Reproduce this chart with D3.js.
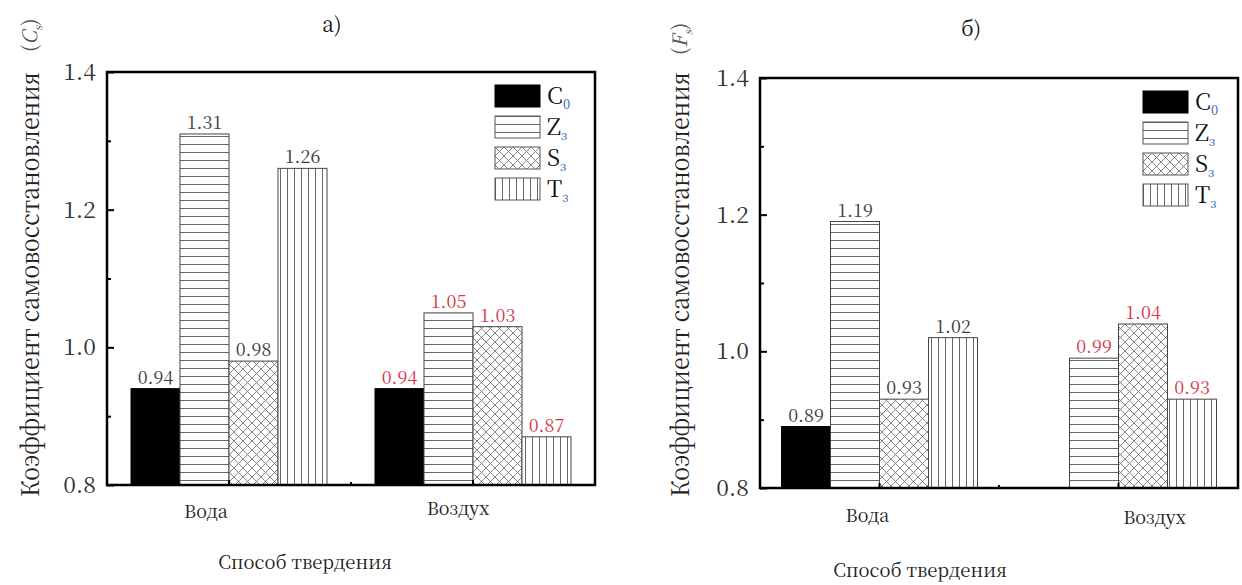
<!DOCTYPE html>
<html lang="ru"><head><meta charset="utf-8">
<script src="https://cdn.jsdelivr.net/npm/d3@7"></script>
<style>
body{margin:0;background:#fff}
svg{display:block}
</style>
</head><body>
<svg id="chart" width="1242" height="585"></svg>
<script>
// Categories and series
const categories = ["Вода", "Воздух"];
const seriesKeys = ["C0", "Z", "S", "T"];
const seriesNames = ["C", "Z", "S", "T"];
const seriesSubs = ["0", "з", "з", "з"];

// Panel а) — coefficient C_s
const a_C0 = [0.94, 0.94];
const a_Z = [1.31, 1.05];
const a_S = [0.98, 1.03];
const a_T = [1.26, 0.87];

// Panel б) — coefficient F_s (no C0 bar for air curing)
const b_C0 = [0.89, null];
const b_Z = [1.19, 0.99];
const b_S = [0.93, 1.04];
const b_T = [1.02, 0.93];

const yTicks = [0.8, 1.0, 1.2, 1.4];
const yMinorTicks = [0.9, 1.1, 1.3];
const yDomain = [0.8, 1.4];
const yLabelText = "Коэффициент самовосстановления";
const xLabelText = "Способ твердения";
const valueColors = ["#3c3c3c", "#d8384a"];
const FONT = "'Noto Serif CJK SC', 'Liberation Serif', serif";

const svg = d3.select("#chart");
const defs = svg.append("defs");

// Fill patterns
const pH = defs.append("pattern").attr("id", "hlines").attr("patternUnits", "userSpaceOnUse")
  .attr("width", 8).attr("height", 8);
pH.append("rect").attr("width", 8).attr("height", 8).attr("fill", "#fff");
pH.append("line").attr("x1", 0).attr("x2", 8).attr("y1", 0.5).attr("y2", 0.5)
  .attr("stroke", "#555").attr("stroke-width", 0.9);

const pV = defs.append("pattern").attr("id", "vlines").attr("patternUnits", "userSpaceOnUse")
  .attr("width", 7).attr("height", 7);
pV.append("rect").attr("width", 7).attr("height", 7).attr("fill", "#fff");
pV.append("line").attr("x1", 0.5).attr("x2", 0.5).attr("y1", 0).attr("y2", 7)
  .attr("stroke", "#555").attr("stroke-width", 0.9);

const pX = defs.append("pattern").attr("id", "cross").attr("patternUnits", "userSpaceOnUse")
  .attr("width", 9).attr("height", 9);
pX.append("rect").attr("width", 9).attr("height", 9).attr("fill", "#fff");
pX.append("path").attr("d", "M0,0L9,9M9,0L0,9").attr("stroke", "#666").attr("stroke-width", 0.8);

const fills = {C0: "#000", Z: "url(#hlines)", S: "url(#cross)", T: "url(#vlines)"};

function drawPanel(cfg) {
  const g = svg.append("g");
  const x = d3.scaleBand().domain(categories).range([cfg.left, cfg.right]);
  const groupW = 196;
  const x1 = d3.scaleBand().domain(seriesKeys).range([-groupW / 2, groupW / 2]);
  const y = d3.scaleLinear().domain(yDomain).range([cfg.bottom, cfg.top]);

  const rows = [];
  seriesKeys.forEach((k, si) => {
    cfg.values[si].forEach((v, ci) => {
      if (v != null) rows.push({key: k, cat: categories[ci], ci, value: v});
    });
  });

  // Bars
  g.selectAll("rect.bar").data(rows).join("rect").attr("class", "bar")
    .attr("x", d => x(d.cat) + x.bandwidth() / 2 + x1(d.key))
    .attr("width", x1.bandwidth())
    .attr("y", d => y(d.value))
    .attr("height", d => y(yDomain[0]) - y(d.value))
    .attr("fill", d => fills[d.key])
    .attr("stroke", d => d.key === "C0" ? "#000" : "#444")
    .attr("stroke-width", 1);

  // Value labels
  g.selectAll("text.val").data(rows).join("text").attr("class", "val")
    .attr("x", d => x(d.cat) + x.bandwidth() / 2 + x1(d.key) + x1.bandwidth() / 2)
    .attr("y", d => y(d.value) - 5)
    .attr("text-anchor", "middle")
    .attr("font-size", 18)
    .attr("fill", d => valueColors[d.ci])
    .text(d => d3.format(".2f")(d.value));

  // Y axis ticks (inward)
  const yAxis = d3.axisRight(y).tickValues(yTicks).tickSize(7).tickFormat("");
  g.append("g").attr("transform", `translate(${cfg.left},0)`).call(yAxis)
    .call(s => s.select(".domain").remove())
    .call(s => s.selectAll("line").attr("stroke", "#000").attr("stroke-width", 2));
  const yAxisMinor = d3.axisRight(y).tickValues(yMinorTicks).tickSize(4).tickFormat("");
  g.append("g").attr("transform", `translate(${cfg.left},0)`).call(yAxisMinor)
    .call(s => s.select(".domain").remove())
    .call(s => s.selectAll("line").attr("stroke", "#000").attr("stroke-width", 2));

  g.selectAll("text.ytick").data(yTicks).join("text").attr("class", "ytick")
    .attr("x", cfg.left - 11).attr("y", d => y(d))
    .attr("dy", "0.35em").attr("text-anchor", "end")
    .attr("font-size", 23).attr("fill", "#333")
    .text(d => d3.format(".1f")(d));

  // X axis ticks (inward): category centres and the midpoint between them
  const xTickPos = [x(categories[0]) + x.bandwidth() / 2, cfg.left + (cfg.right - cfg.left) / 2, x(categories[1]) + x.bandwidth() / 2];
  g.selectAll("line.xtick").data(xTickPos).join("line").attr("class", "xtick")
    .attr("x1", d => d).attr("x2", d => d)
    .attr("y1", cfg.bottom).attr("y2", (d, i) => cfg.bottom - (i === 1 ? 3 : 5))
    .attr("stroke", "#000").attr("stroke-width", 2);

  // Frame
  g.append("rect").attr("x", cfg.left).attr("y", cfg.top)
    .attr("width", cfg.right - cfg.left).attr("height", cfg.bottom - cfg.top)
    .attr("fill", "none").attr("stroke", "#000").attr("stroke-width", 2.5);

  // Category labels
  g.selectAll("text.cat").data(categories).join("text").attr("class", "cat")
    .attr("x", (d, i) => x(d) + x.bandwidth() / 2 + cfg.catDx[i])
    .attr("y", (d, i) => cfg.catY[i])
    .attr("text-anchor", "middle").attr("font-size", 18).attr("fill", "#222")
    .text(d => d);

  // Axis titles
  g.append("text").attr("x", cfg.xTitleX).attr("y", cfg.xTitleY)
    .attr("text-anchor", "middle").attr("font-size", 18.5).attr("fill", "#222")
    .text(xLabelText);

  g.append("text")
    .attr("transform", `translate(${cfg.yTitleX},${cfg.yTitleBottom}) rotate(-90)`)
    .attr("dy", "0.35em").attr("font-size", 25).attr("fill", "#222")
    .attr("textLength", cfg.yTitleLen).attr("lengthAdjust", "spacingAndGlyphs")
    .text(yLabelText);

  const sym = g.append("text")
    .attr("transform", `translate(${cfg.yTitleX},${cfg.symBottom}) rotate(-90)`)
    .attr("dy", "0.35em").attr("font-size", 20).attr("fill", "#555");
  sym.append("tspan").text("(");
  sym.append("tspan").attr("font-style", "italic").text(cfg.symbol);
  sym.append("tspan").attr("font-size", 11).attr("dy", 5).attr("font-style", "italic").text("s");
  sym.append("tspan").attr("dy", -5).text(")");

  // Panel title
  g.append("text").attr("x", cfg.titleX).attr("y", cfg.titleY)
    .attr("text-anchor", "middle").attr("font-size", 21).attr("fill", "#111")
    .text(cfg.title);

  // Legend
  const lg = g.append("g").attr("transform", `translate(${cfg.legendX},${cfg.legendY})`);
  seriesKeys.forEach((k, i) => {
    const row = lg.append("g").attr("transform", `translate(0,${i * 31})`);
    row.append("rect").attr("width", 45).attr("height", 22)
      .attr("fill", fills[k]).attr("stroke", k === "C0" ? "#000" : "#555").attr("stroke-width", 1);
    const t = row.append("text").attr("x", 52).attr("y", 19).attr("font-size", 23).attr("fill", "#111");
    t.append("tspan").text(seriesNames[i]);
    t.append("tspan").attr("font-size", 13).attr("dy", 5).attr("fill", "#1f5fa8").text(seriesSubs[i]);
  });
}

drawPanel({
  values: [a_C0, a_Z, a_S, a_T],
  left: 107, right: 595, top: 72, bottom: 485,
  catDx: [-23, -15], catY: [518, 515],
  xTitleX: 305, xTitleY: 569,
  yTitleX: 30, yTitleBottom: 497, yTitleLen: 425, symBottom: 52,
  symbol: "C",
  title: "а)", titleX: 332, titleY: 32,
  legendX: 495, legendY: 85
});

drawPanel({
  values: [b_C0, b_Z, b_S, b_T],
  left: 760, right: 1238, top: 78, bottom: 488,
  catDx: [-12, 36], catY: [522, 524],
  xTitleX: 920, xTitleY: 577,
  yTitleX: 680, yTitleBottom: 497, yTitleLen: 425, symBottom: 55,
  symbol: "F",
  title: "б)", titleX: 971, titleY: 36,
  legendX: 1143, legendY: 91
});

// Serif typeface on every text element
svg.selectAll("text").style("font-family", FONT);
</script>
</body></html>
